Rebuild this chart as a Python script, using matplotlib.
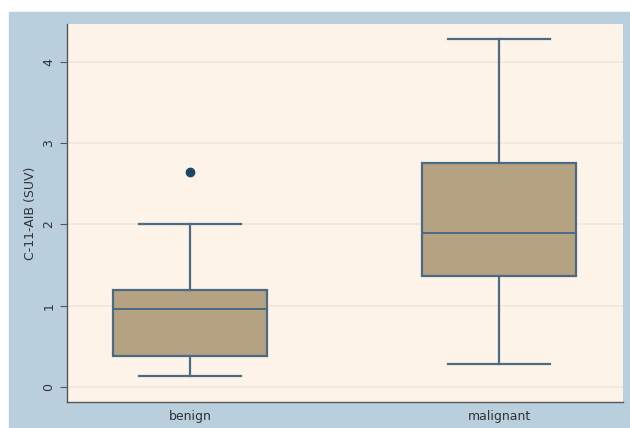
import matplotlib.pyplot as plt
from matplotlib.patches import Rectangle

# box statistics
groups = ['benign', 'malignant']
lower_whisker = [0.14, 0.28]
q1 = [0.38, 1.37]
median = [0.96, 1.90]
q3 = [1.19, 2.75]
upper_whisker = [2.01, 4.28]
outliers = [[2.65], []]

stats = []
for i, g in enumerate(groups):
    stats.append({'label': g, 'whislo': lower_whisker[i], 'q1': q1[i],
                  'med': median[i], 'q3': q3[i], 'whishi': upper_whisker[i],
                  'fliers': outliers[i]})

fig = plt.figure(figsize=(6.3, 4.28), dpi=100, facecolor='white')
# blue outer panel (Stata style), kept behind the axes
fig.patches.append(Rectangle((9 / 630, 0), 1, (428 - 12) / 428,
                             transform=fig.transFigure, color='#b9cfde', zorder=-10))

ax = fig.add_axes([67 / 630, 26 / 428, 556 / 630, 378 / 428])
ax.set_facecolor('#fdf3e8')

edge = '#4b6a84'
ax.bxp(stats, positions=[1, 2], widths=0.5, patch_artist=True, showfliers=True,
       boxprops=dict(facecolor='#b4a282', edgecolor=edge, linewidth=1.6),
       medianprops=dict(color=edge, linewidth=1.4),
       whiskerprops=dict(color=edge, linewidth=1.6),
       capprops=dict(color=edge, linewidth=1.6),
       capwidths=0.33,
       flierprops=dict(marker='o', markerfacecolor='#1c4866', markeredgecolor='#1c4866',
                       markersize=6))

ax.set_xlim(0.602, 2.401)
ax.set_ylim(-0.185, 4.465)
ax.set_yticks([0, 1, 2, 3, 4])
ax.yaxis.grid(True, color='#efe7db', linewidth=1.2)
ax.set_axisbelow(True)

for s in ['top', 'right']:
    ax.spines[s].set_visible(False)
for s in ['left', 'bottom']:
    ax.spines[s].set_color('#555555')
    ax.spines[s].set_linewidth(1.0)

ax.tick_params(axis='y', labelrotation=90, length=5, color='#555555',
               labelsize=9, labelcolor='#333333')
ax.tick_params(axis='x', length=0, labelsize=9, labelcolor='#333333', pad=6)
for lab in ax.get_yticklabels():
    lab.set_va('center')
ax.set_ylabel('C-11-AIB (SUV)', fontsize=9, color='#333333', labelpad=4)

fig.savefig('out.png', dpi=100, facecolor=fig.get_facecolor())
